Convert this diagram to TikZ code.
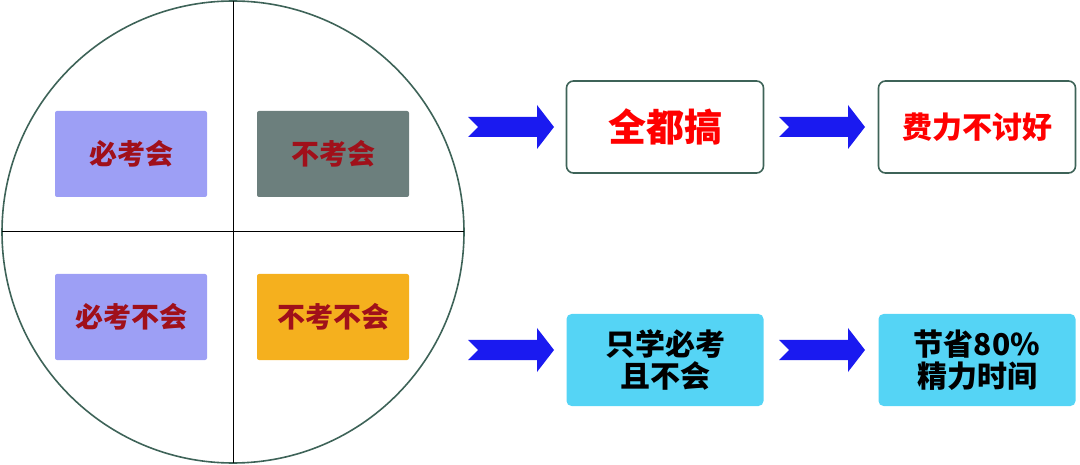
\documentclass[tikz,border=0pt]{standalone}
\usepackage{fontspec}
\newfontfamily\cjk{Noto Sans CJK SC}
\definecolor{edge}{HTML}{3E6358}
\definecolor{lav}{HTML}{9D9FF5}
\definecolor{slate}{HTML}{6C7F7D}
\definecolor{orng}{HTML}{F5B01E}
\definecolor{cyanb}{HTML}{55D4F5}
\definecolor{dred}{HTML}{A0101A}
\definecolor{ablue}{HTML}{1A1AF0}
\begin{document}
\begin{tikzpicture}[x=1pt,y=-1pt,
  quad/.style={draw=none,rounded corners=2pt,minimum width=152pt,minimum height=86pt,font=\cjk\bfseries\fontsize{28}{32}\selectfont,text=dred},
  res/.style={draw=edge,line width=1.6pt,rounded corners=7pt,minimum width=197pt,minimum height=92pt,align=center,font=\cjk\bfseries\fontsize{38}{44}\selectfont},
  blk/.style={fill=cyanb,draw=none,rounded corners=5pt,minimum width=197pt,minimum height=92pt,align=center,font=\cjk\bfseries\fontsize{30}{36}\selectfont}]
\useasboundingbox (0,0) rectangle (1080,465);
\coordinate (c) at (233,232);
\draw[edge,line width=1.6pt] (c) circle[x radius=231pt,y radius=231pt];
\draw[black,line width=1pt] (233,1) -- (233,463) (2,232) -- (464,232);
\node[quad,fill=lav] (a) at (131,154) {必考会};
\node[quad,fill=slate] (b) at (333,154) {不考会};
\node[quad,fill=lav] (d) at (131,317) {必考不会};
\node[quad,fill=orng] (e) at (333,317) {不考不会};
\node[res,text=red] (r1) at (665,127) {全都搞};
\node[res,text=red,font=\cjk\bfseries\fontsize{30}{36}\selectfont] (r2) at (977,127) {费力不讨好};
\node[blk] (r3) at (665,360) {只学必考\\[-4pt]且不会};
\node[blk] (r4) at (977,360) {节省80\%\\[-4pt]精力时间};
\foreach \x/\y in {468/127,779/127,468/350,779/350}{
  \fill[ablue] (\x,\y-10) -- (\x+69,\y-10) -- (\x+69,\y-22) -- (\x+86,\y) -- (\x+69,\y+22) -- (\x+69,\y+10) -- (\x,\y+10) -- (\x+10,\y) -- cycle;
}
\end{tikzpicture}
\end{document}
